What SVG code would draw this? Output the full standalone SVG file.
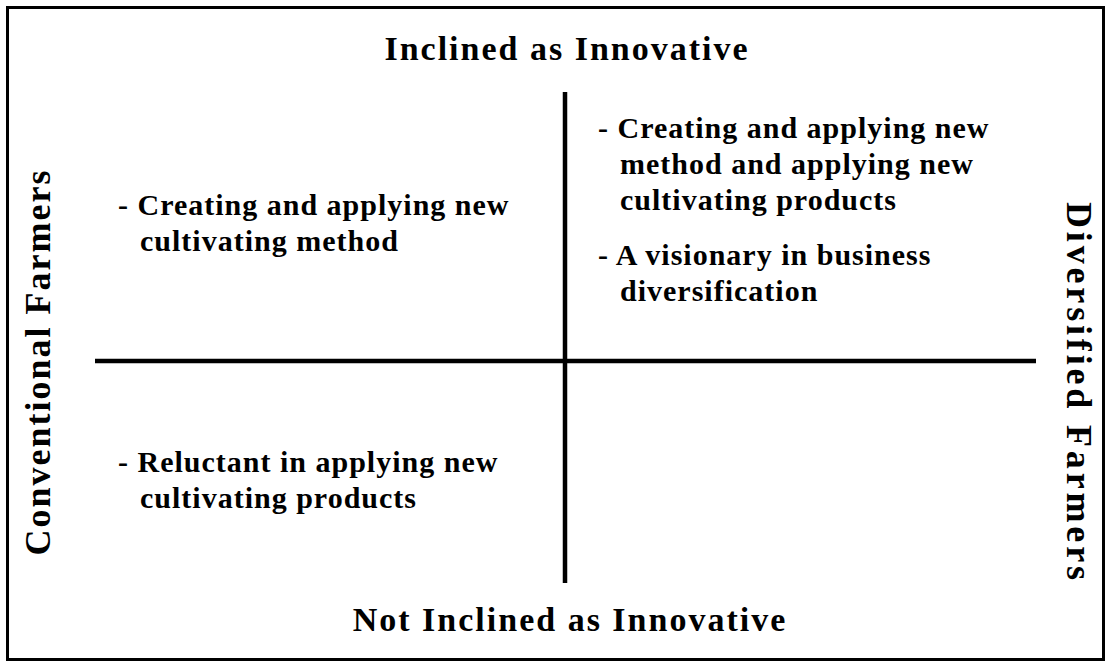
<svg xmlns="http://www.w3.org/2000/svg" width="1111" height="667" viewBox="0 0 1111 667">
<style>
.t{font-family:"Liberation Serif","Times New Roman",serif;font-weight:bold;fill:#000}
.title{font-size:34px;letter-spacing:2px}
.side{font-size:36px;letter-spacing:2px}
.b{font-size:30px;letter-spacing:1px}
.ln{stroke:#000;stroke-width:4.5;fill:none}
</style>
<rect x="7.5" y="7.5" width="1096" height="652" fill="#fff" stroke="#000" stroke-width="3"/>
<g id="connectors">
<line class="ln" x1="565" y1="92" x2="565" y2="583"/>
<line class="ln" x1="95" y1="361" x2="1036" y2="361"/>
</g>
<g id="top-label"><text class="t title" x="567" y="60" text-anchor="middle">Inclined as Innovative</text></g>
<g id="bottom-label"><text class="t title" x="570" y="631" text-anchor="middle">Not Inclined as Innovative</text></g>
<g id="left-label"><text class="t side" transform="translate(50,362) rotate(-90)" text-anchor="middle">Conventional Farmers</text></g>
<g id="right-label"><text class="t side" transform="translate(1067,392) rotate(90)" text-anchor="middle" textLength="380" lengthAdjust="spacing">Diversified Farmers</text></g>
<g id="q-top-left">
<text class="t b" x="118" y="215">- Creating and applying new</text>
<text class="t b" x="140" y="251">cultivating method</text>
</g>
<g id="q-top-right">
<text class="t b" x="598" y="138">- Creating and applying new</text>
<text class="t b" x="620" y="174">method and applying new</text>
<text class="t b" x="620" y="210">cultivating products</text>
<text class="t b" x="598" y="265">- A visionary in business</text>
<text class="t b" x="620" y="301">diversification</text>
</g>
<g id="q-bottom-left">
<text class="t b" x="118" y="472">- Reluctant in applying new</text>
<text class="t b" x="140" y="508">cultivating products</text>
</g>
</svg>
